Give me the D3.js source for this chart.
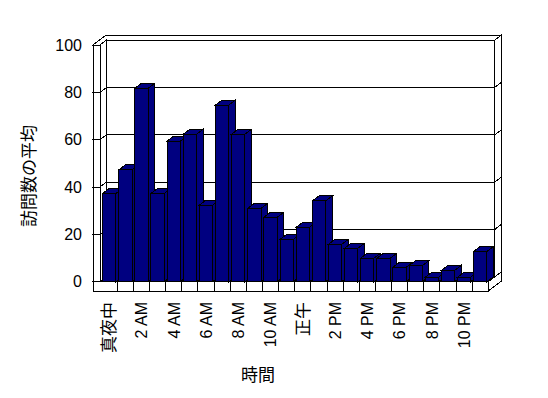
<!DOCTYPE html>
<html>
<head>
<meta charset="utf-8">
<script src="https://cdn.jsdelivr.net/npm/d3@7"></script>
<style>
  body { margin: 0; background: #fff; }
  svg { font-family: "Liberation Sans", "Noto Sans CJK JP", sans-serif; shape-rendering: crispEdges; }
</style>
</head>
<body>
<div id="chart"></div>
<script>
// Chart data
const hours = ["真夜中", "1 AM", "2 AM", "3 AM", "4 AM", "5 AM", "6 AM", "7 AM", "8 AM", "9 AM", "10 AM", "11 AM",
               "正午", "1 PM", "2 PM", "3 PM", "4 PM", "5 PM", "6 PM", "7 PM", "8 PM", "9 PM", "10 PM", "11 PM"];
const visits = [37.3, 47.2, 81.7, 37.3, 59.4, 62.3, 32.4, 74.6, 62.3, 31.0, 27.2, 17.9,
                23.0, 34.1, 15.8, 14.1, 9.9, 9.9, 6.1, 6.8, 1.9, 4.8, 1.9, 12.8];
const yTicks = [0, 20, 40, 60, 80, 100];
const xLabels = hours.filter((d, i) => i % 2 === 0);
const yTitle = "訪問数の平均";
const xTitle = "時間";

var width = 548, height = 398;

// 3D depth offset (oblique projection)
var dx = 6.6, dy = -5;

var svg = d3.select("#chart").append("svg")
  .attr("width", width)
  .attr("height", height);

var x = d3.scaleBand()
  .domain(hours)
  .range([101.2, 488.3])
  .paddingInner(0.175)
  .paddingOuter(0.0875);

var y = d3.scaleLinear()
  .domain([0, 100])
  .range([281.7, 45]);

var left = 100, outer = 93, right = x.range()[1];
var yTop = y(100), base = y(0), floorBottom = 291;

const poly = pts => pts.map(p => p.join(",")).join(" ");

// walls
var walls = svg.append("g").attr("fill", "#fff").attr("stroke", "#000");

// top of left + back wall
walls.append("polygon").attr("points", poly([
  [outer, yTop], [outer + 2 * dx, yTop + 2 * dy], [right + 2 * dx, yTop + 2 * dy],
  [right + dx, yTop + dy], [left + dx, yTop + dy], [left, yTop]
]));

// back wall face
walls.append("rect")
  .attr("x", left + dx).attr("y", yTop + dy)
  .attr("width", right - left).attr("height", base - yTop);

// back wall right edge
walls.append("polygon").attr("points", poly([
  [right + dx, yTop + dy], [right + 2 * dx, yTop + 2 * dy],
  [right + 2 * dx, base + 2 * dy], [right + dx, base + dy]
]));

// left wall inner side
walls.append("polygon").attr("points", poly([
  [left, yTop], [left + dx, yTop + dy], [left + dx, base + dy], [left, base]
]));

// left wall front edge
walls.append("rect")
  .attr("x", outer).attr("y", yTop)
  .attr("width", left - outer).attr("height", base - yTop);

// gridlines and ticks
var grid = svg.append("g").attr("stroke", "#000").attr("fill", "none");
yTicks.forEach(function(t) {
  var yy = y(t);
  grid.append("polyline").attr("points", poly([
    [outer - 1.3, yy], [left, yy], [left + dx, yy + dy],
    [right + dx, yy + dy], [right + 2 * dx, yy + 2 * dy]
  ]));
});

// floor
var floor = svg.append("g").attr("fill", "#fff").attr("stroke", "#000");
floor.append("polygon").attr("points", poly([
  [left, base], [left + dx, base + dy], [right + dx, base + dy], [right, base]
]));
floor.append("polygon").attr("points", poly([
  [right, base], [right + 2 * dx, base + 2 * dy], [right + 2 * dx, floorBottom + 2 * dy], [right, floorBottom]
]));
floor.append("rect")
  .attr("x", outer).attr("y", base)
  .attr("width", right - outer).attr("height", floorBottom - base);

// category dividers on the floor front
floor.selectAll(".div")
  .data(hours.slice(0, -1))
  .enter().append("line")
  .attr("x1", d => x(d) + x.bandwidth() / 2 + x.step() / 2)
  .attr("x2", d => x(d) + x.bandwidth() / 2 + x.step() / 2)
  .attr("y1", base)
  .attr("y2", floorBottom);

// bars
var bw = x.bandwidth();
var bars = svg.selectAll(".bar")
  .data(hours.map((h, i) => ({ hour: h, value: visits[i] })))
  .enter().append("g")
  .attr("class", "bar")
  .attr("fill", "#000080")
  .attr("stroke", "#000");

bars.append("polygon").attr("points", d => {
  var x0 = x(d.hour), yt = y(d.value);
  return poly([[x0 + bw, yt], [x0 + bw + dx, yt + dy], [x0 + bw + dx, base + dy], [x0 + bw, base]]);
});
bars.append("polygon").attr("points", d => {
  var x0 = x(d.hour), yt = y(d.value);
  return poly([[x0, yt], [x0 + dx, yt + dy], [x0 + bw + dx, yt + dy], [x0 + bw, yt]]);
});
bars.append("rect")
  .attr("x", d => x(d.hour))
  .attr("y", d => y(d.value))
  .attr("width", bw)
  .attr("height", d => base - y(d.value));

// y tick labels
svg.append("g").selectAll("text")
  .data(yTicks)
  .enter().append("text")
  .attr("x", 82)
  .attr("y", d => y(d))
  .attr("dy", "0.36em")
  .attr("text-anchor", "end")
  .style("font-size", "16px")
  .text(d => d);

// x tick labels (rotated)
var xAxis = svg.append("g")
  .attr("transform", "translate(0," + floorBottom + ")")
  .call(d3.axisBottom(x).tickValues(xLabels).tickSize(0));
xAxis.select(".domain").remove();
xAxis.selectAll("text")
  .attr("transform", "rotate(-90)")
  .attr("x", -11)
  .attr("y", 0)
  .attr("dy", "0.36em")
  .attr("fill", "#000")
  .style("text-anchor", "end")
  .style("font-family", "\"Liberation Sans\", \"Noto Sans CJK JP\", sans-serif")
  .style("font-size", d => /[^\x00-\x7F]/.test(d) ? "17px" : "16px");

// axis titles
svg.append("text")
  .attr("transform", "translate(29,176) rotate(-90)")
  .attr("text-anchor", "middle")
  .attr("dy", "0.36em")
  .style("font-size", "17px")
  .text(yTitle);

svg.append("text")
  .attr("x", 258)
  .attr("y", 375)
  .attr("text-anchor", "middle")
  .attr("dy", "0.36em")
  .style("font-size", "17px")
  .text(xTitle);
</script>
</body>
</html>
